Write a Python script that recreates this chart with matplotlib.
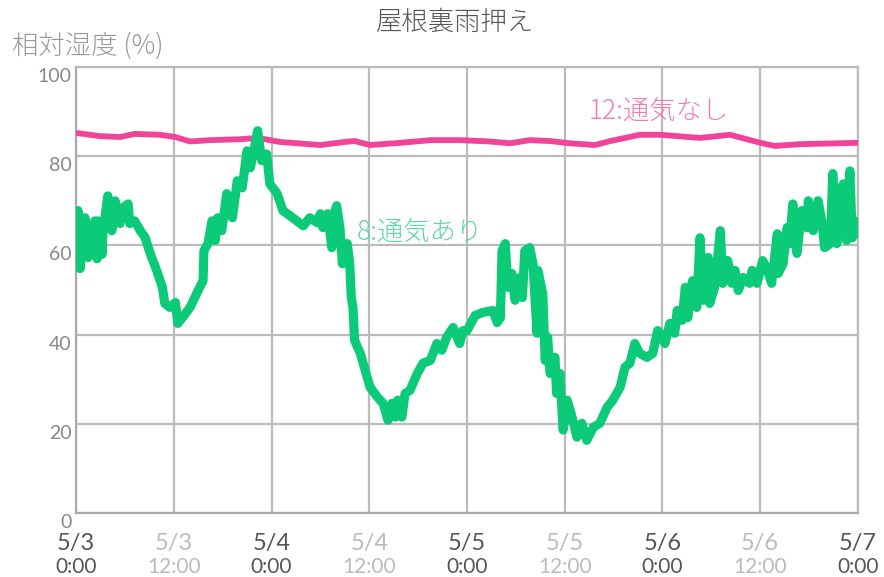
"""
屋根裏雨押え - relative humidity, 5/3 to 5/7
Two sensors: 8 (ventilated) and 12 (not ventilated).
"""

import matplotlib
matplotlib.use("Agg")
import matplotlib.pyplot as plt
import matplotlib.transforms as mtransforms

plt.rcParams["font.family"] = ["Lato", "Noto Sans CJK JP", "DejaVu Sans"]

# hours since 5/3 0:00
GREEN_T = [0.1, 0.25, 0.5, 1.1, 1.5, 2.3, 2.6, 2.7, 3.2, 3.3, 3.9, 4.4, 4.8, 5.4, 5.8,
           6.4, 6.6, 7.2, 7.9, 8.5, 9.1, 9.9, 10.6, 10.9, 11.5, 12.2, 12.5, 13.1, 14.0,
           15.0, 15.6, 15.7, 16.2, 16.7, 17.1, 17.4, 17.9, 18.5, 19.2, 19.8, 20.4, 21.0,
           21.4, 22.0, 22.3, 22.8, 23.4, 23.8, 24.7, 25.4, 26.6, 27.9, 28.7, 29.6, 30.0,
           30.3, 30.9, 31.4, 31.8, 32.0, 32.4, 32.7, 33.3, 33.6, 33.8, 34.0, 34.2, 34.9,
           35.5, 36.1, 37.0, 37.7, 38.3, 38.8, 39.2, 39.5, 40.0, 40.4, 41.0, 41.9, 42.6,
           43.5, 44.3, 44.9, 45.5, 46.3, 47.1, 47.5, 48.0, 49.0, 50.0, 51.2, 51.7, 52.1,
           52.3, 52.7, 53.0, 53.5, 53.9, 54.5, 54.8, 55.1, 55.7, 56.1, 56.6, 56.7, 57.3,
           57.6, 57.9, 58.2, 58.8, 59.0, 59.4, 59.8, 60.3, 60.9, 61.5, 62.1, 62.7, 63.5,
           64.3, 65.2, 65.9, 66.8, 67.4, 68.0, 68.6, 69.2, 70.1, 70.8, 71.4, 71.7, 72.3,
           72.9, 73.5, 73.8, 74.4, 74.8, 75.1, 75.7, 76.2, 76.6, 77.0, 77.6, 77.8, 78.4,
           79.1, 79.4, 80.0, 80.5, 80.9, 81.3, 81.9, 82.7, 83.0, 83.6, 84.3, 84.9, 85.4,
           86.1, 86.2, 86.8, 87.3, 87.6, 88.0, 88.5, 89.1, 89.7, 89.9, 90.5, 91.1, 91.6,
           91.9, 92.6, 92.9, 93.4, 93.8, 94.2, 94.6, 95.0, 95.3, 95.6, 96.0]
GREEN_RH = [58.8, 67.8, 54.8, 66.2, 57.3, 65.5, 57.0, 65.5, 58.0, 62.6, 71.1, 63.3, 70.0,
            64.9, 68.5, 69.3, 64.9, 65.5, 63.3, 61.7, 58.2, 54.4, 50.6, 47.0, 46.1, 47.2,
            42.5, 43.9, 46.1, 49.9, 52.1, 58.8, 60.4, 65.5, 61.1, 66.2, 63.3, 71.6, 66.2,
            74.5, 72.9, 81.2, 77.4, 82.8, 85.7, 79.0, 80.5, 73.8, 71.6, 67.8, 66.2, 64.4,
            66.2, 65.1, 67.1, 64.0, 67.1, 59.5, 67.8, 68.9, 64.0, 55.9, 60.4, 55.9, 48.3,
            46.1, 38.7, 35.8, 32.0, 28.2, 26.0, 24.6, 20.8, 24.6, 21.5, 25.3, 21.5, 26.8,
            27.5, 31.3, 33.6, 34.2, 38.0, 36.5, 39.4, 41.6, 38.0, 40.9, 40.9, 44.3, 45.0,
            45.4, 42.7, 43.8, 58.8, 60.4, 50.6, 53.7, 47.7, 52.8, 48.3, 58.8, 59.5, 55.9,
            40.3, 54.4, 49.2, 34.2, 39.4, 31.3, 34.9, 26.8, 31.3, 18.6, 25.3, 21.5, 17.0,
            20.1, 16.3, 19.2, 20.1, 23.7, 25.3, 28.2, 32.7, 33.6, 38.0, 35.8, 34.9, 35.8,
            40.9, 40.3, 38.0, 42.5, 40.3, 45.4, 43.2, 50.6, 43.8, 52.1, 46.1, 61.7, 47.7,
            57.3, 47.0, 50.6, 63.3, 51.5, 56.6, 51.5, 54.4, 49.9, 52.8, 51.5, 54.4, 51.5,
            56.6, 54.4, 51.5, 62.6, 53.7, 55.9, 64.0, 60.4, 69.3, 58.2, 67.8, 64.0, 70.0,
            63.3, 70.0, 64.9, 59.5, 60.4, 76.1, 60.4, 72.3, 73.8, 61.1, 76.7, 61.7, 65.5,
            62.6]

PINK_T = [0.1, 2.9, 5.4, 7.2, 10.3, 12.2, 14.0, 16.4, 20.1, 22.3, 25.0, 30.0, 33.0, 34.2,
          36.1, 39.8, 43.5, 47.1, 50.8, 53.3, 55.7, 58.2, 60.6, 63.7, 65.6, 69.2, 71.7,
          76.6, 80.3, 84.0, 85.8, 88.9, 96.0]
PINK_RH = [85.2, 84.5, 84.3, 85.0, 84.8, 84.3, 83.3, 83.6, 83.8, 84.1, 83.2, 82.5, 83.2,
           83.4, 82.5, 83.0, 83.6, 83.6, 83.3, 82.9, 83.6, 83.4, 82.9, 82.5, 83.4, 84.8,
           84.8, 84.1, 84.8, 83.0, 82.3, 82.7, 83.0]

TICK_HOURS = [0, 12, 24, 36, 48, 60, 72, 84, 96]
TICK_DATES = ["5/3", "5/3", "5/4", "5/4", "5/5", "5/5", "5/6", "5/6", "5/7"]
TICK_TIMES = ["0:00", "12:00", "0:00", "12:00", "0:00", "12:00", "0:00", "12:00", "0:00"]

GREEN = "#0bcb78"
PINK = "#f0449a"
CJK = ["Noto Sans CJK JP", "DejaVu Sans"]

fig = plt.figure(figsize=(8.84, 5.77), dpi=100)
ax = fig.add_axes([76 / 884, 64 / 577, 782 / 884, 446 / 577])

ax.plot(PINK_T, PINK_RH, color=PINK, lw=4.2, solid_capstyle="round",
        solid_joinstyle="round", zorder=3)
ax.plot(GREEN_T, GREEN_RH, color=GREEN, lw=6.6, solid_capstyle="round",
        solid_joinstyle="round", zorder=4)

ax.set_xlim(0, 96)
ax.set_ylim(0, 100)
ax.set_xticks(TICK_HOURS)
ax.set_xticklabels([])
ax.set_yticks(range(0, 101, 20))
ax.grid(True, color="#bbbbbb", lw=1.6)
ax.set_axisbelow(True)
ax.tick_params(length=0, pad=3)
for s in ax.spines.values():
    s.set_color("#bbbbbb")
    s.set_linewidth(1.6)
ax.spines["left"].set_color("#aaaaaa")
ax.spines["bottom"].set_color("#aaaaaa")

offset = mtransforms.ScaledTranslation(0, -1 / 100, fig.dpi_scale_trans)
for lab in ax.get_yticklabels():
    lab.set_fontsize(14)
    lab.set_color("#888888")
    lab.set_verticalalignment("top")
    lab.set_transform(lab.get_transform() + offset)

# two-line x labels: date bigger, time smaller; noon ticks are faded
trans = ax.get_xaxis_transform()
for h, d, t in zip(TICK_HOURS, TICK_DATES, TICK_TIMES):
    col = "#555555" if t == "0:00" else "#bbbbbb"
    ax.text(h, -0.068, d, transform=trans, ha="center", va="center",
            fontsize=17, color=col)
    ax.text(h, -0.122, t, transform=trans, ha="center", va="center",
            fontsize=15, color=col)

ax.text(34.5, 63.0, "8:通気あり", color="#5fd8a0", fontsize=19,
        family=CJK, weight="light", va="center", ha="left", zorder=5)
ax.text(62.9, 90.3, "12:通気なし", color="#f27ab6", fontsize=19,
        family=CJK, weight="light", va="center", ha="left", zorder=5)

fig.text(455 / 884, 1 - 22 / 577, "屋根裏雨押え", ha="center", va="center",
         fontsize=19, color="#555555", family=CJK, weight="light")
fig.text(12 / 884, 1 - 46 / 577, "相対湿度 (%)", ha="left", va="center",
         fontsize=19, color="#999999", family=CJK, weight="light")

fig.savefig("out.png", dpi=100)
